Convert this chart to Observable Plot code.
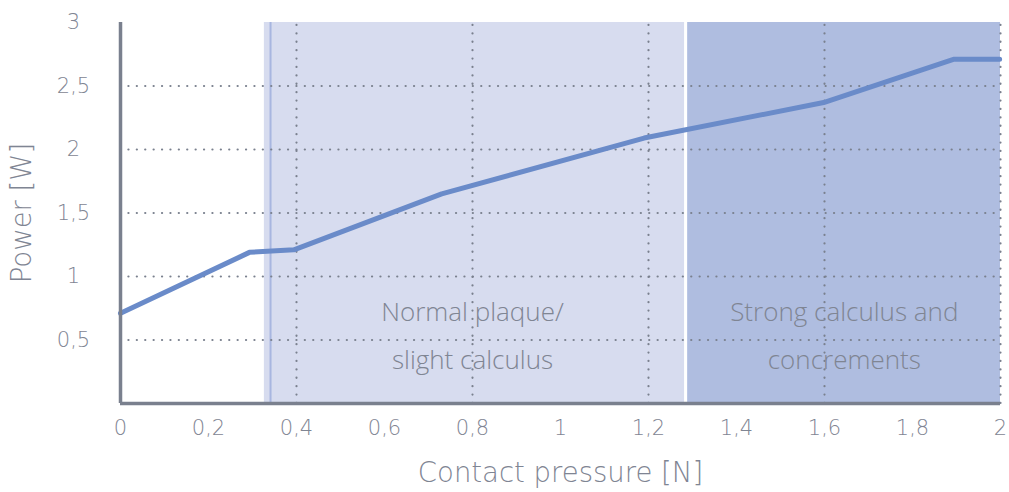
<!DOCTYPE html>
<html>
<head>
<meta charset="utf-8">
<script src="https://cdn.jsdelivr.net/npm/d3@7"></script>
<script src="https://cdn.jsdelivr.net/npm/@observablehq/plot@0.6"></script>
<style>
  html, body { margin: 0; padding: 0; background: #fff; }
  #chart { width: 1009px; height: 492px; }
</style>
</head>
<body>
<div id="chart"></div>
<script>
// Data
const pressure = [0, 0.293, 0.394, 0.73, 1.19, 1.598, 1.893, 1.998];
const power    = [0.71, 1.19, 1.21, 1.65, 2.09, 2.37, 2.71, 2.71];
const bandStart = [0.327, 1.289];
const bandEnd   = [1.282, 2.0];
const bandLabel1 = ["Normal plaque/", "Strong calculus and"];
const bandLabel2 = ["slight calculus", "concrements"];
const bandLabelX = [0.8, 1.645];
const markerX = [0.341];
const xTicks = [0, 0.2, 0.4, 0.6, 0.8, 1, 1.2, 1.4, 1.6, 1.8, 2];
const yTicks = [0.5, 1, 1.5, 2, 2.5, 3];
const xGrid = [0.4, 0.8, 1.2, 1.6, 2];
const yGrid = [0.5, 1, 1.5, 2, 2.5];

const fmt = d => String(d).replace(".", ",");
const gray = "#7a808e";
const textGray = "#7f8593";
const bandFills = ["#d7dcef", "#afbde0"];
const axisFont = "'DejaVu Sans ExtraLight', 'DejaVu Sans', sans-serif";
const bandFont = "'Open Sans', sans-serif";

const pts = pressure.map((x, i) => ({x, y: power[i]}));
const bands = bandStart.map((s, i) => ({s, e: bandEnd[i], i}));
const labels = bandLabelX.map((x, i) => ({x, a: bandLabel1[i], b: bandLabel2[i]}));

const plot = Plot.plot({
  width: 1009,
  height: 492,
  marginLeft: 120,
  marginRight: 9,
  marginTop: 22,
  marginBottom: 89,
  style: {fontFamily: axisFont, background: "#fff", fontWeight: 200},
  x: {domain: [0, 2]},
  y: {domain: [0, 3]},
  marks: [
    Plot.rectX(bands, {x1: "s", x2: "e", y1: 0, y2: 3, fill: d => bandFills[d.i]}),
    Plot.ruleX(markerX, {y1: 0, y2: 3, stroke: "#a8b6e0", strokeWidth: 2}),
    Plot.ruleY(yGrid, {x1: 0, x2: 2, stroke: gray, strokeWidth: 2.2, strokeDasharray: "0.1,8.3", strokeLinecap: "round"}),
    Plot.ruleX(xGrid, {y1: 0, y2: 3, stroke: gray, strokeWidth: 2.2, strokeDasharray: "0.1,8.3", strokeLinecap: "round"}),
    Plot.text(labels, {x: "x", y: 0, text: "a", dy: -91, fill: textGray, fontSize: 26, fontWeight: 300, fontFamily: bandFont}),
    Plot.text(labels, {x: "x", y: 0, text: "b", dy: -43, fill: textGray, fontSize: 26, fontWeight: 300, fontFamily: bandFont}),
    Plot.line(pts, {x: "x", y: "y", stroke: "#6a8bc9", strokeWidth: 5, strokeLinejoin: "miter"}),
    Plot.ruleX([0], {y1: 0, y2: 3, stroke: gray, strokeWidth: 3.5}),
    Plot.ruleY([0], {x1: 0, x2: 2, stroke: gray, strokeWidth: 3.5}),
    Plot.axisX(xTicks, {tickSize: 0, tickPadding: 17, tickFormat: fmt, fontSize: 21, fill: textGray, label: null}),
    Plot.axisY(yTicks, {tickSize: 0, tickPadding: 47, textAnchor: "middle", tickFormat: fmt, fontSize: 21, fill: textGray, label: null}),
    Plot.text(["Contact pressure [N]"], {frameAnchor: "bottom", dy: 70, textAnchor: "middle", lineAnchor: "middle", fill: textGray, fontSize: 27.5}),
    Plot.text(["Power [W]"], {frameAnchor: "left", dx: -98, rotate: -90, textAnchor: "middle", lineAnchor: "middle", fill: textGray, fontSize: 27.5})
  ]
});
document.getElementById("chart").appendChild(plot);
</script>
</body>
</html>
